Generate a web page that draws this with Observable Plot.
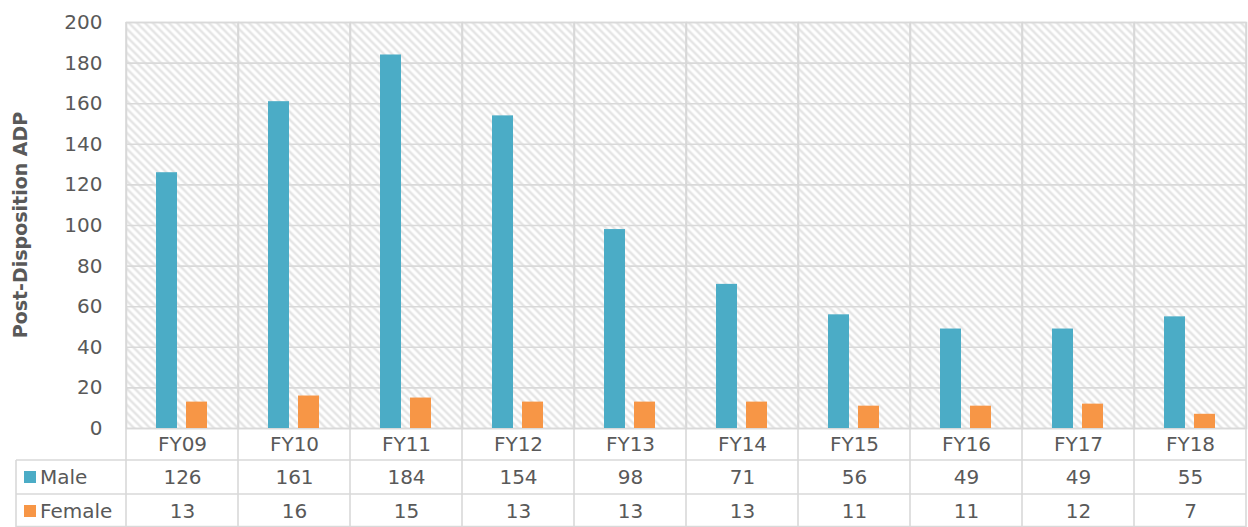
<!DOCTYPE html>
<html><head><meta charset="utf-8">
<script src="https://cdn.jsdelivr.net/npm/d3@7"></script>
<script src="https://cdn.jsdelivr.net/npm/@observablehq/plot@0.6"></script>
<style>
html,body{margin:0;padding:0;background:#fff;}
#chart{position:relative;width:1248px;height:527px;overflow:hidden;}
</style></head><body><div id="chart"></div>
<script>
const years = ["FY09","FY10","FY11","FY12","FY13","FY14","FY15","FY16","FY17","FY18"];
const male = [126,161,184,154,98,71,56,49,49,55];
const female = [13,16,15,13,13,13,11,11,12,7];
const seriesNames = ["Male","Female"];
const seriesColors = ["#4BACC6","#F79646"];
const yTicks = [0,20,40,60,80,100,120,140,160,180,200];
const yLabel = "Post-Disposition ADP";

const data = years.flatMap((y,i)=>[
  {year:y, series:"Male", value:male[i]},
  {year:y, series:"Female", value:female[i]}
]);

const W = 1248, H = 527;
const txt = "#595959", gridC = "#d9d9d9";
const font = "DejaVu Sans";
const fs = 20;

const plot = Plot.plot({
  width: W, height: H,
  marginTop: 22, marginLeft: 124, marginRight: 1, marginBottom: 99,
  style: {fontFamily: font, fontSize: fs + "px", color: txt, background: "#fff", overflow: "visible"},
  fx: {domain: years, padding: 0, axis: null, label: null},
  x: {domain: seriesNames, paddingInner: 0.29, paddingOuter: 0.956, axis: null},
  y: {domain: [0,200], ticks: yTicks, tickSize: 0, tickPadding: 24, label: null, tickFormat: d => String(d)},
  color: {domain: seriesNames, range: seriesColors},
  marks: [
    Plot.frame({fill: "url(#hatch)", stroke: gridC, strokeWidth: 1.6}),
    Plot.gridY(yTicks, {stroke: gridC, strokeOpacity: 1, strokeWidth: 1.6}),
    Plot.barY(data, {fx: "year", x: "series", y: "value", fill: "series"}),
    Plot.axisY({ticks: yTicks, tickSize: 0, tickPadding: 24, label: null, fontSize: fs, fill: txt}),
    Plot.text(years, {fx: d => d, text: d => d, frameAnchor: "bottom", lineAnchor: "middle", dy: 16, fill: txt, fontSize: fs}),
    Plot.text(data.filter(d => d.series === "Male"), {fx: "year", text: d => String(d.value), frameAnchor: "bottom", lineAnchor: "middle", dy: 49, fill: txt, fontSize: fs}),
    Plot.text(data.filter(d => d.series === "Female"), {fx: "year", text: d => String(d.value), frameAnchor: "bottom", lineAnchor: "middle", dy: 83, fill: txt, fontSize: fs})
  ]
});

const svg = d3.select(plot);
const defs = svg.insert("defs", ":first-child");
const pat = defs.append("pattern").attr("id","hatch").attr("patternUnits","userSpaceOnUse")
  .attr("width",8).attr("height",8);
pat.append("rect").attr("width",8).attr("height",8).attr("fill","#fff");
pat.append("path").attr("d","M-2,-2L10,10M-2,6L2,10M6,-2L10,2")
  .attr("stroke","#e4e4e4").attr("stroke-width",2.4);

// table grid
const fx = plot.scale("fx");
const ys = plot.scale("y");
const yBottom = ys.apply(0), yTop = ys.apply(200);
const bounds = years.map(y => fx.apply(y)).concat([fx.apply(years[years.length-1]) + fx.bandwidth]);
const row1 = yBottom + 32, row2 = yBottom + 66, row3 = H - 0.5;
const left = 16;
const g = svg.append("g").attr("stroke", gridC).attr("stroke-width", 1.6).attr("fill","none");
bounds.forEach(b => g.append("line").attr("x1",b).attr("x2",b).attr("y1",yTop).attr("y2",H));
g.append("line").attr("x1",left).attr("x2",left).attr("y1",row1).attr("y2",H);
[row1,row2,row3].forEach(r => g.append("line").attr("x1",left).attr("x2",bounds[bounds.length-1]).attr("y1",r).attr("y2",r));

// legend keys in table
const lg = svg.append("g").attr("font-family", font).attr("font-size", fs).attr("fill", txt).attr("text-anchor","start");
[row1, row2].forEach((r, i) => {
  const cy = r + 17;
  lg.append("rect").attr("x", 24).attr("y", cy - 6).attr("width", 12).attr("height", 12).attr("fill", seriesColors[i]);
  lg.append("text").attr("x", 40).attr("y", cy).attr("dy", "0.35em").attr("text-anchor","start").text(seriesNames[i]);
});

// y axis title
svg.append("text").attr("transform", `translate(27,${(yTop+yBottom)/2}) rotate(-90)`)
  .attr("text-anchor","middle").attr("font-family", font).attr("font-size", 19)
  .attr("font-weight","bold").attr("fill", txt).text(yLabel);

document.getElementById("chart").appendChild(plot);
</script>
</body></html>
